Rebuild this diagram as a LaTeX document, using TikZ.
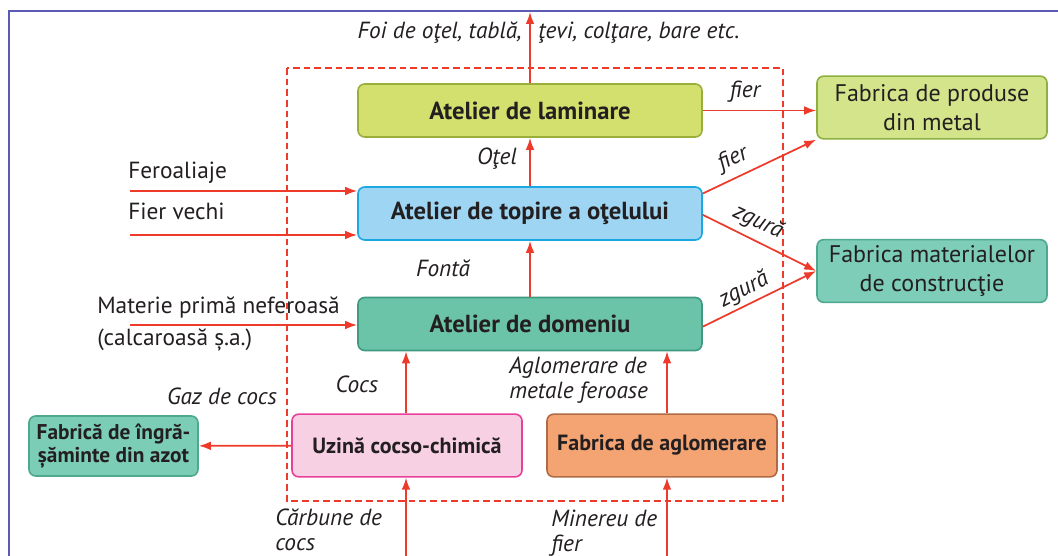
\documentclass[tikz,border=0pt]{standalone}
\usepackage{fontspec}
\setmainfont{PT Sans}
\usetikzlibrary{arrows.meta}
\definecolor{flux}{HTML}{EE3A2A}
\definecolor{txt}{HTML}{231F20}
\definecolor{frame}{HTML}{5B5BB4}
\definecolor{lamfill}{HTML}{D4E06E}\definecolor{lamline}{HTML}{9AAE3A}
\definecolor{topfill}{HTML}{9DD5F2}\definecolor{topline}{HTML}{1BA8E0}
\definecolor{domfill}{HTML}{6CC4A8}\definecolor{domline}{HTML}{3E9A80}
\definecolor{uzfill}{HTML}{F8D0E4}\definecolor{uzline}{HTML}{E8409A}
\definecolor{aglfill}{HTML}{F4A373}\definecolor{aglline}{HTML}{B06A45}
\definecolor{ingrfill}{HTML}{7BCDB5}\definecolor{ingrline}{HTML}{4EA88E}
\definecolor{prodfill}{HTML}{D4E48A}\definecolor{prodline}{HTML}{8DB040}
\definecolor{matfill}{HTML}{7DCDB8}\definecolor{matline}{HTML}{4FA890}
\tikzstyle{box}=[draw, rounded corners=5pt, line width=1.2pt, align=center, text=txt, inner sep=1pt]
\tikzstyle{big}=[box, minimum width=258pt, minimum height=39.75pt, font=\fontsize{18.5}{20}\selectfont\bfseries]
\tikzstyle{small}=[box, minimum width=172.5pt, minimum height=47pt, font=\fontsize{16.5}{18}\selectfont\bfseries]
\tikzstyle{plant}=[box, minimum width=172.5pt, minimum height=47pt, font=\fontsize{18}{21.75}\selectfont]
\tikzstyle{flow}=[flux, line width=1.3pt, -{Latex[length=9pt,width=6.5pt]}]
\tikzstyle{lbl}=[font=\fontsize{17.5}{18.5}\selectfont\itshape, text=txt, inner sep=0pt]
\tikzstyle{inp}=[font=\fontsize{17.5}{18}\selectfont, text=txt, inner sep=0pt]

\begin{document}
\begin{tikzpicture}[x=0.75pt, y=-0.75pt]
\useasboundingbox (0,0) rectangle (1058,556);
% frame
\draw[frame, line width=2.2pt] (9,556) -- (9,11) -- (1058,11);
% the works
\draw[flux, line width=1.4pt, dash pattern=on 5pt off 3pt] (287,68) rectangle (783,501);

\node[big, fill=lamfill, draw=lamline] (lam) at (530,110.5) {Atelier de laminare};
\node[big, fill=topfill, draw=topline] (top) at (530,213.5) {Atelier de topire a oţelului};
\node[big, fill=domfill, draw=domline] (dom) at (530,324) {Atelier de domeniu};
\node[small, fill=uzfill, draw=uzline] (uz) at (407,445.5) {Uzină cocso-chimică};
\node[small, fill=aglfill, draw=aglline] (agl) at (662,445.5) {Fabrica de aglomerare};
\node[box, fill=ingrfill, draw=ingrline, minimum width=126.75pt, minimum height=45pt,
  font=\fontsize{16}{17.5}\selectfont\bfseries] (ingr) at (113.5,446) {Fabrică de îngră-\\șăminte din azot};
\node[plant, fill=prodfill, draw=prodline] (prod) at (932,107.5) {Fabrica de produse\\din metal};
\node[plant, fill=matfill, draw=matline] (mat) at (932,271) {Fabrica materialelor\\de construcţie};

% free ends
\coordinate (out) at (530,12);
\coordinate (fer) at (130,191);
\coordinate (vec) at (130,235);
\coordinate (mp) at (130,325);
\coordinate (carb) at (406,556);
\coordinate (min) at (667,556);

% flows
\draw[flow] (lam) -- (out);
\draw[flow] (top) -- (lam);
\draw[flow] (dom) -- (top);
\draw[flow] (uz.north -| carb) -- (dom.south -| carb);
\draw[flow] (agl.north -| min) -- (dom.south -| min);
\draw[flow] (carb) -- (uz.south -| carb);
\draw[flow] (min) -- (agl.south -| min);
\draw[flow] (uz) -- (ingr);
\draw[flow] (fer) -- (fer -| top.west);
\draw[flow] (vec) -- (vec -| top.west);
\draw[flow] (mp) -- (mp -| dom.west);
\draw[flow] (lam) -- (prod.west |- lam);
\draw[flow] ([yshift=15pt]top.east) -- (prod.south west);
\draw[flow] ([yshift=-1pt]top.east) -- (mat.west);
\draw[flow] ([yshift=-2pt]dom.east) -- (mat.west);

% labels
\node[lbl, anchor=east] (foi1) at (522,33) {Foi de oţel, tablă,};
\node[lbl, anchor=west] (foi2) at (538,33) {ţevi, colţare, bare etc.};
\node[lbl] (fier1) at (745,92) {fier};
\node[lbl, rotate=25] (fier2) at (733,159) {fier};
\node[lbl, rotate=-25] (zg1) at (758,222) {zgură};
\node[lbl, rotate=27] (zg2) at (744,290) {zgură};
\node[lbl] (otel) at (497,159) {Oţel};
\node[lbl] (fonta) at (443,268) {Fontă};
\node[lbl] (cocs) at (357,384) {Cocs};
\node[lbl, anchor=west, align=left] (aglo) at (509,380) {Aglomerare de\\metale feroase};
\node[lbl] (gaz) at (222,396) {Gaz de cocs};
\node[lbl, anchor=west, align=left] (carbl) at (275,530) {Cărbune de\\cocs};
\node[lbl, anchor=west, align=left] (minl) at (551,533) {Minereu de\\fier};
\node[inp, anchor=west] (ferl) at (128,173) {Feroaliaje};
\node[inp, anchor=west] (vecl) at (128,211) {Fier vechi};
\node[inp, anchor=west, align=left, font=\fontsize{17.5}{24}\selectfont] (mpl) at (97,324) {Materie primă neferoasă\\(calcaroasă ș.a.)};
\end{tikzpicture}
\end{document}
